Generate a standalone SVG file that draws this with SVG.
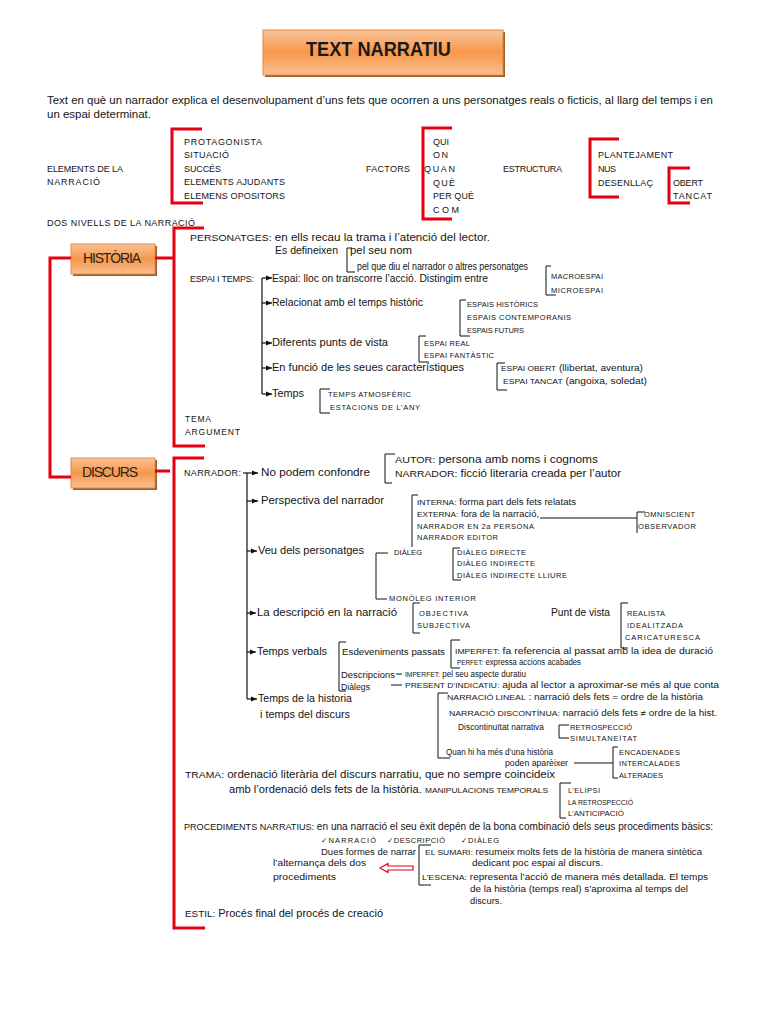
<svg xmlns="http://www.w3.org/2000/svg" width="768" height="1024" viewBox="0 0 768 1024">
<defs>
<linearGradient id="og" x1="0" y1="0" x2="0" y2="1">
<stop offset="0" stop-color="#f9c39a"/>
<stop offset="0.5" stop-color="#f7984a"/>
<stop offset="1" stop-color="#fbbf90"/>
</linearGradient>
<marker id="ah" viewBox="0 0 6 6" refX="6" refY="3" markerWidth="6" markerHeight="6" markerUnits="userSpaceOnUse" orient="auto">
<path d="M0,0.5 L6,3 L0,5.5 z" fill="#111"/>
</marker>
<style>
text{font-family:"Liberation Sans",Arial,"DejaVu Sans",sans-serif;fill:#141414}
.f10{font-size:10px}
.f9{font-size:9px}
.f85{font-size:8.5px}
.f8{font-size:8px}
.f7{font-size:7.5px}
.f65{font-size:7px}
.cap{font-size:9px}
.box{fill:url(#og);stroke:#e08a44;stroke-width:1}
.shd{fill:#9a5e2c}
.bt{font-size:14px;fill:#2a2420}
.rb{fill:none;stroke:#e60012;stroke-width:3}
.bk{fill:none;stroke:#111;stroke-width:1}
.tr{fill:none;stroke:#111;stroke-width:1.2}
</style>
</defs>
<rect width="768" height="1024" fill="#ffffff"/>

<g id="title">
<rect class="shd" x="265" y="32" width="240" height="45"/>
<rect class="box" x="263" y="30" width="240" height="45"/>
<text x="306" y="56" style="font-size:20px;font-weight:bold;fill:#1a1a1a" textLength="145" lengthAdjust="spacingAndGlyphs">TEXT NARRATIU</text>
</g>

<g id="intro">
<text class="f10" x="47" y="104" textLength="666" lengthAdjust="spacingAndGlyphs">Text en què un narrador explica el desenvolupament d’uns fets que ocorren a uns personatges reals o ficticis, al llarg del temps i en</text>
<text class="f10" x="47" y="118" textLength="104" lengthAdjust="spacingAndGlyphs">un  espai determinat.</text>
</g>

<g id="elements">
<text class="f9" x="47" y="172" textLength="76">ELEMENTS DE LA</text>
<text class="f9" x="47" y="185" textLength="53">NARRACIÓ</text>
<text class="f9" x="184" y="145" textLength="78">PROTAGONISTA</text>
<text class="f9" x="184" y="158" textLength="45">SITUACIÓ</text>
<text class="f9" x="184" y="172" textLength="37">SUCCÉS</text>
<text class="f9" x="184" y="185" textLength="101">ELEMENTS AJUDANTS</text>
<text class="f9" x="184" y="199" textLength="101">ELEMENS OPOSITORS</text>
</g>

<g id="factors">
<text class="f9" x="366" y="172" textLength="44">FACTORS</text>
<text class="f9" x="433" y="145" textLength="16">QUI</text>
<text class="f9" x="433" y="158" textLength="15">ON</text>
<text class="f9" x="424" y="172" textLength="31">QUAN</text>
<text class="f9" x="433" y="186" textLength="22">QUÈ</text>
<text class="f9" x="433" y="199" textLength="41">PER QUÈ</text>
<text class="f9" x="433" y="213" textLength="26">COM</text>
</g>

<g id="estructura">
<text class="f9" x="503" y="172" textLength="59">ESTRUCTURA</text>
<text class="f9" x="598" y="158" textLength="75">PLANTEJAMENT</text>
<text class="f9" x="598" y="172" textLength="18">NUS</text>
<text class="f9" x="598" y="186" textLength="55">DESENLLAÇ</text>
<text class="f9" x="673" y="186" textLength="30">OBERT</text>
<text class="f9" x="673" y="199" textLength="39">TANCAT</text>
</g>

<g id="nivells">
<text class="f9" x="47" y="226" textLength="148">DOS NIVELLS DE LA NARRACIÓ</text>
</g>

<g id="historia">
<rect class="shd" x="73" y="246" width="84" height="30"/>
<rect class="box" x="71" y="244" width="84" height="30"/>
<text class="bt" x="83" y="263" textLength="58">HISTÒRIA</text>
</g>

<g id="personatges">
<text class="f10" x="190" y="241" textLength="300" lengthAdjust="spacingAndGlyphs"><tspan class="cap">PERSONATGES:</tspan> en ells recau la trama i l’atenció del lector.</text>
<text class="f10" x="275" y="254" textLength="63" lengthAdjust="spacingAndGlyphs">Es defineixen</text>
<text class="f10" x="350" y="254" textLength="62" lengthAdjust="spacingAndGlyphs">pel seu nom</text>
<text class="f10" x="357" y="270" textLength="171" lengthAdjust="spacingAndGlyphs">pel que diu el narrador o altres personatges</text>
</g>

<g id="espai-temps">
<text class="cap" x="190" y="282" textLength="64">ESPAI I TEMPS:</text>
<text class="f10" x="272" y="282" textLength="216" lengthAdjust="spacingAndGlyphs">Espai: lloc on transcorre l’acció. Distingim entre</text>
<text class="f7" x="551" y="279" textLength="52">MACROESPAI</text>
<text class="f7" x="551" y="293" textLength="52">MICROESPAI</text>
<text class="f10" x="272" y="306" textLength="151" lengthAdjust="spacingAndGlyphs">Relacionat amb el temps històric</text>
<text class="f7" x="467" y="307" textLength="71">ESPAIS HISTÒRICS</text>
<text class="f7" x="467" y="320" textLength="104">ESPAIS CONTEMPORANIS</text>
<text class="f7" x="467" y="333" textLength="57">ESPAIS FUTURS</text>
<text class="f10" x="272" y="346" textLength="116" lengthAdjust="spacingAndGlyphs">Diferents punts de vista</text>
<text class="f7" x="424" y="346" textLength="46">ESPAI REAL</text>
<text class="f7" x="424" y="358" textLength="70">ESPAI FANTÀSTIC</text>
<text class="f10" x="272" y="371" textLength="192" lengthAdjust="spacingAndGlyphs">En funció de les seues característiques</text>
<text class="f9" x="501" y="371" textLength="142" lengthAdjust="spacingAndGlyphs"><tspan class="f7">ESPAI OBERT</tspan> (llibertat, aventura)</text>
<text class="f9" x="503" y="384" textLength="144" lengthAdjust="spacingAndGlyphs"><tspan class="f7">ESPAI TANCAT</tspan> (angoixa, soledat)</text>
<text class="f10" x="272" y="397" textLength="32" lengthAdjust="spacingAndGlyphs">Temps</text>
<text class="f7" x="328" y="397" textLength="83">TEMPS ATMOSFÈRIC</text>
<text class="f7" x="330" y="410" textLength="90">ESTACIONS DE L’ANY</text>
<text class="f85" x="185" y="422" textLength="26">TEMA</text>
<text class="f85" x="185" y="435" textLength="55">ARGUMENT</text>
</g>

<g id="discurs">
<rect class="shd" x="73" y="460" width="84" height="30"/>
<rect class="box" x="71" y="458" width="84" height="30"/>
<text class="bt" x="82" y="477" textLength="56">DISCURS</text>
</g>

<g id="narrador">
<text class="cap" x="184" y="476" textLength="57">NARRADOR:</text>
<text class="f10" x="261" y="476" textLength="109" lengthAdjust="spacingAndGlyphs">No podem confondre</text>
<text class="f10" x="395" y="463" textLength="203" lengthAdjust="spacingAndGlyphs"><tspan class="cap">AUTOR:</tspan>  persona amb noms i cognoms</text>
<text class="f10" x="395" y="477" textLength="226" lengthAdjust="spacingAndGlyphs"><tspan class="cap">NARRADOR:</tspan> ficció literaria creada per l’autor</text>
<text class="f10" x="261" y="504" textLength="123" lengthAdjust="spacingAndGlyphs">Perspectiva del narrador</text>
<text class="f85" x="417" y="505" textLength="159" lengthAdjust="spacingAndGlyphs"><tspan class="f7">INTERNA:</tspan> forma part dels fets relatats</text>
<text class="f85" x="417" y="517" textLength="122" lengthAdjust="spacingAndGlyphs"><tspan class="f7">EXTERNA:</tspan> fora de la narració,</text>
<text class="f7" x="417" y="529" textLength="117">NARRADOR EN 2a PERSONA</text>
<text class="f7" x="417" y="540" textLength="81">NARRADOR EDITOR</text>
<text class="f7" x="644" y="517" textLength="51">OMNISCIENT</text>
<text class="f7" x="638" y="529" textLength="58">OBSERVADOR</text>
<text class="f10" x="258" y="554" textLength="106" lengthAdjust="spacingAndGlyphs">Veu dels personatges</text>
<text class="f7" x="394" y="555" textLength="28">DIÀLEG</text>
<text class="f7" x="457" y="555" textLength="69">DIÀLEG DIRECTE</text>
<text class="f7" x="457" y="566" textLength="78">DIÀLEG INDIRECTE</text>
<text class="f7" x="457" y="578" textLength="110">DIÀLEG INDIRECTE LLIURE</text>
<text class="f7" x="389" y="601" textLength="87">MONÒLEG INTERIOR</text>
<text class="f10" x="257" y="616" textLength="140" lengthAdjust="spacingAndGlyphs">La descripció en la narració</text>
<text class="f7" x="419" y="616" textLength="49">OBJECTIVA</text>
<text class="f7" x="417" y="628" textLength="53">SUBJECTIVA</text>
<text class="f10" x="551" y="616" textLength="59" lengthAdjust="spacingAndGlyphs">Punt de vista</text>
<text class="f7" x="627" y="616" textLength="38">REALISTA</text>
<text class="f7" x="627" y="628" textLength="56">IDEALITZADA</text>
<text class="f7" x="625" y="640" textLength="75">CARICATURESCA</text>
</g>

<g id="temps-verbals">
<text class="f10" x="257" y="655" textLength="70" lengthAdjust="spacingAndGlyphs">Temps verbals</text>
<text class="f85" x="342" y="655" textLength="103" lengthAdjust="spacingAndGlyphs">Esdeveniments passats</text>
<text class="f85" x="455" y="653.5" textLength="258" lengthAdjust="spacingAndGlyphs"><tspan class="f65">IMPERFET:</tspan> fa referencia al passat amb la  idea de duració</text>
<text class="f85" x="457" y="665" textLength="124" lengthAdjust="spacingAndGlyphs"><tspan class="f65">PERFET:</tspan> expressa accions acabades</text>
<text class="f85" x="341" y="678" textLength="54" lengthAdjust="spacingAndGlyphs">Descripcions</text>
<text class="f85" x="405" y="676.5" textLength="121" lengthAdjust="spacingAndGlyphs"><tspan class="f65">IMPERFET:</tspan> pel seu aspecte duratiu</text>
<text class="f85" x="341" y="690" textLength="29" lengthAdjust="spacingAndGlyphs">Diàlegs</text>
<text class="f85" x="405" y="688" textLength="314" lengthAdjust="spacingAndGlyphs"><tspan class="f65">PRESENT D’INDICATIU:</tspan> ajuda al lector a aproximar-se més al que  conta</text>
</g>

<g id="temps-historia">
<text class="f10" x="258" y="702" textLength="94" lengthAdjust="spacingAndGlyphs">Temps de la historia</text>
<text class="f10" x="260" y="718" textLength="90" lengthAdjust="spacingAndGlyphs">i temps del discurs</text>
<text class="f85" x="447" y="700" textLength="256" lengthAdjust="spacingAndGlyphs"><tspan class="f7">NARRACIÓ LINEAL</tspan> : narració dels fets = ordre de la història</text>
<text class="f85" x="449" y="716" textLength="268" lengthAdjust="spacingAndGlyphs"><tspan class="f7">NARRACIÓ DISCONTÍNUA:</tspan> narració dels fets ≠ ordre de la hist.</text>
<text class="f85" x="458" y="730" textLength="86" lengthAdjust="spacingAndGlyphs">Discontinuïtat narrativa</text>
<text class="f7" x="570" y="730" textLength="62">RETROSPECCIÓ</text>
<text class="f7" x="570" y="741" textLength="67">SIMULTANEÏTAT</text>
<text class="f85" x="446" y="755" textLength="107" lengthAdjust="spacingAndGlyphs">Quan hi ha més d’una història</text>
<text class="f85" x="505" y="766" textLength="63" lengthAdjust="spacingAndGlyphs">poden aparèixer</text>
<text class="f7" x="619" y="755" textLength="61">ENCADENADES</text>
<text class="f7" x="619" y="766" textLength="61">INTERCALADES</text>
<text class="f7" x="619" y="778" textLength="44">ALTERADES</text>
</g>

<g id="trama">
<text class="f10" x="185" y="778" textLength="370" lengthAdjust="spacingAndGlyphs"><tspan class="cap">TRAMA:</tspan> ordenació literària del discurs narratiu, que no sempre coincideix</text>
<text class="f10" x="229" y="793" textLength="319" lengthAdjust="spacingAndGlyphs">amb l’ordenació dels fets de la història. <tspan class="f7">MANIPULACIONS TEMPORALS</tspan></text>
<text class="f7" x="568" y="793" textLength="32">L’ELIPSI</text>
<text class="f7" x="568" y="805" textLength="65" lengthAdjust="spacingAndGlyphs">LA RETROSPECCIÓ</text>
<text class="f7" x="568" y="816" textLength="56" lengthAdjust="spacingAndGlyphs">L’ANTICIPACIÓ</text>
</g>

<g id="procediments">
<text class="f10" x="184" y="830" textLength="529" lengthAdjust="spacingAndGlyphs"><tspan class="cap">PROCEDIMENTS NARRATIUS:</tspan> en una narració el seu èxit depén de la bona combinació dels seus procediments bàsics:</text>
<text class="f7" x="321" y="843" textLength="55">✓NARRACIÓ</text>
<text class="f7" x="387" y="843" textLength="58">✓DESCRIPCIÓ</text>
<text class="f7" x="461" y="843" textLength="38">✓DIÀLEG</text>
<text class="f85" x="321" y="855" textLength="95" lengthAdjust="spacingAndGlyphs">Dues formes de narrar</text>
<text class="f85" x="425" y="855" textLength="277" lengthAdjust="spacingAndGlyphs"><tspan class="f7">EL SUMARI:</tspan> resumeix molts fets de la història de manera sintètica</text>
<text class="f85" x="472" y="866" textLength="131" lengthAdjust="spacingAndGlyphs">dedicant poc espai al discurs.</text>
<text class="f9" x="273" y="866" textLength="93" lengthAdjust="spacingAndGlyphs">l’alternança dels dos</text>
<text class="f9" x="273" y="880" textLength="63" lengthAdjust="spacingAndGlyphs">procediments</text>
<text class="f85" x="422" y="880" textLength="286" lengthAdjust="spacingAndGlyphs"><tspan class="f7">L’ESCENA:</tspan> representa l’acció de manera més detallada. El temps</text>
<text class="f85" x="470" y="892" textLength="218" lengthAdjust="spacingAndGlyphs">de la història (temps real) s’aproxima al temps del</text>
<text class="f85" x="470" y="904" textLength="32" lengthAdjust="spacingAndGlyphs">discurs.</text>
</g>

<g id="estil">
<text class="f10" x="185" y="917" textLength="198" lengthAdjust="spacingAndGlyphs"><tspan class="cap">ESTIL:</tspan>  Procés final del procés de creació</text>
</g>

<g id="connectors">
<path class="rb" d="M202,129 H172 V203 H203"/>
<path class="rb" d="M452,128 H423 V219 H452"/>
<path class="rb" d="M619,139 H590 V197 H619"/>
<path class="rb" d="M690,168 H669 V203 H690"/>
<path class="rb" d="M71,258 H50 V477 H71"/>
<path class="rb" d="M155,258 H174"/>
<path class="rb" d="M204,228 H174 V446 H205"/>
<path class="rb" d="M155,471 H170"/>
<path class="rb" d="M204,458 H174 V928 H205"/>
<path class="bk" d="M352,248 H347 V272 H355"/>
<path class="tr" d="M262,278 V394"/>
<path class="tr" marker-end="url(#ah)" d="M262,278 H272"/>
<path class="tr" marker-end="url(#ah)" d="M262,303 H272"/>
<path class="tr" marker-end="url(#ah)" d="M262,343 H272"/>
<path class="tr" marker-end="url(#ah)" d="M262,368 H272"/>
<path class="tr" marker-end="url(#ah)" d="M262,394 H272"/>
<path class="bk" d="M551,266 H546 V295 H556"/>
<path class="bk" d="M466,300 H460 V336 H470"/>
<path class="bk" d="M426,336 H419 V362 H429"/>
<path class="bk" d="M505,363 H497 V390 H507"/>
<path class="bk" d="M330,389 H320 V413 H330"/>
<path class="tr" d="M247,473 V699"/>
<path class="tr" marker-end="url(#ah)" d="M243,473 H258"/>
<path class="tr" marker-end="url(#ah)" d="M247,501 H258"/>
<path class="tr" marker-end="url(#ah)" d="M247,551 H257"/>
<path class="tr" marker-end="url(#ah)" d="M247,613 H256"/>
<path class="tr" marker-end="url(#ah)" d="M247,652 H256"/>
<path class="tr" marker-end="url(#ah)" d="M247,699 H257"/>
<path class="bk" d="M395,454 H385 V483 H392"/>
<path class="bk" d="M418,495 H412 V547"/>
<path class="bk" d="M540,518 H637"/>
<path class="bk" d="M645,512 H637 V533"/>
<path class="bk" d="M388,553 H376 V599 H387"/>
<path class="bk" d="M460,548 H453 V580 H461"/>
<path class="bk" d="M420,603 H413 V633 H420"/>
<path class="bk" d="M628,603 H621 V648 H628"/>
<path class="bk" d="M346,642 H339 V691 H346"/>
<path class="bk" d="M460,640 H451 V668 H460"/>
<path class="bk" d="M396,674 H402"/>
<path class="bk" d="M391,685 H402"/>
<path class="bk" d="M448,693 H438 V758 H450"/>
<path class="bk" d="M569,725 H559 V738 H569"/>
<path class="bk" d="M574,763 H613"/>
<path class="bk" d="M618,747 H613 V778 H618"/>
<path class="bk" d="M571,783 H560 V818 H566"/>
<path class="bk" d="M431,845 H419 V885 H431"/>
<path d="M380,868 L388,863.5 L388,866 L413,866 L413,870 L388,870 L388,872.5 Z" fill="#ffffff" stroke="#e60012" stroke-width="1.2"/>
</g>
</svg>
